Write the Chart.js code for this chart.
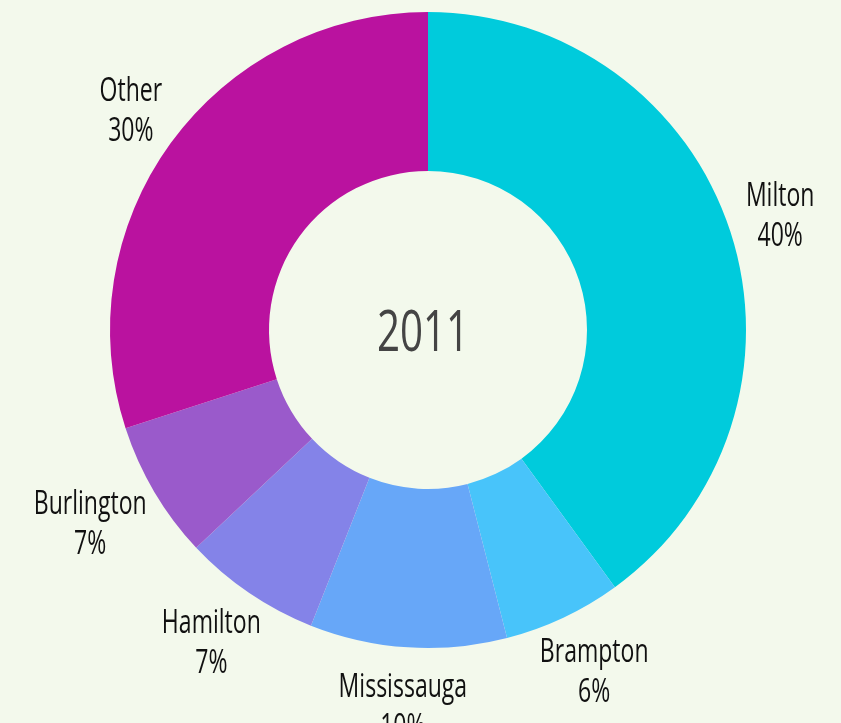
<!DOCTYPE html>
<html>
<head>
<meta charset="utf-8">
<script src="https://cdn.jsdelivr.net/npm/chart.js@4.4.1/dist/chart.umd.min.js"></script>
<style>
  html, body { margin: 0; padding: 0; background: #f3f9ec; }
  #wrap { width: 841px; height: 723px; position: relative; }
</style>
</head>
<body>
<div id="wrap"><canvas id="c"></canvas></div>
<script>
const labels = ['Milton', 'Brampton', 'Mississauga', 'Hamilton', 'Burlington', 'Other'];
const shares = [40, 6, 10, 7, 7, 30];
const colors = ['#00cbdc', '#48c4fa', '#67a7f8', '#8483e8', '#9a5acb', '#ba129f'];
const centerText = '2011';

const FONT = "'Open Sans', 'Noto Sans', sans-serif";
const SQUEEZE = 0.72; // fake a condensed face

function squeezedText(ctx, s, x, y) {
  ctx.save();
  ctx.translate(x, y);
  ctx.scale(SQUEEZE, 1);
  ctx.fillText(s, 0, 0);
  ctx.restore();
}

// name + percent outside each slice, pushed out along the slice's mid angle
const outsideLabels = {
  id: 'outsideLabels',
  afterDraw(chart) {
    const ctx = chart.ctx;
    const meta = chart.getDatasetMeta(0);
    const lh = 40;
    ctx.save();
    ctx.textAlign = 'center';
    ctx.textBaseline = 'middle';
    ctx.fillStyle = '#111';
    ctx.font = '32px ' + FONT;
    meta.data.forEach((arc, i) => {
      const mid = (arc.startAngle + arc.endAngle) / 2;
      const dx = Math.cos(mid), dy = Math.sin(mid);
      const lines = [labels[i], shares[i] + '%'];
      const w = Math.max(...lines.map((s) => ctx.measureText(s).width)) * SQUEEZE;
      const h = lh * lines.length;
      const r = arc.outerRadius + 18;
      const cx = arc.x + dx * r + dx * w / 2;
      const cy = arc.y + dy * r + dy * h / 2 + 3;
      squeezedText(ctx, lines[0], cx, cy - lh / 2);
      squeezedText(ctx, lines[1], cx, cy + lh / 2);
    });
    const a = meta.data[0];
    ctx.fillStyle = '#444';
    ctx.font = '56px ' + FONT;
    squeezedText(ctx, centerText, a.x - 5, a.y + 5);
    ctx.restore();
  }
};

new Chart(document.getElementById('c').getContext('2d'), {
  type: 'doughnut',
  data: {
    labels,
    datasets: [{ data: shares, backgroundColor: colors, borderWidth: 0 }]
  },
  options: {
    responsive: true, maintainAspectRatio: false, animation: false,
    cutout: '50%',
    layout: { padding: { top: 12, bottom: 75, left: 110, right: 95 } },
    plugins: { legend: { display: false }, tooltip: { enabled: false } }
  },
  plugins: [outsideLabels]
});
</script>
</body>
</html>
